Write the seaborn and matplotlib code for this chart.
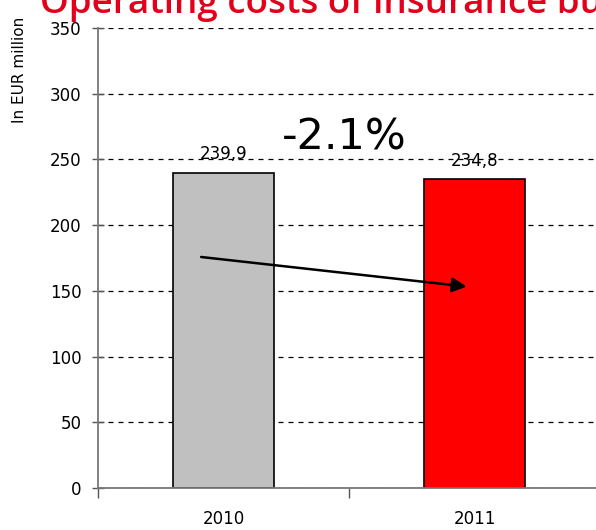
import matplotlib
matplotlib.use("Agg")
import numpy as np
import pandas as pd
import seaborn as sns
import matplotlib.pyplot as plt

years = ["2010", "2011"]
costs = [239.9, 234.8]
bar_colors = ["#C0C0C0", "#FF0000"]
value_labels = ["239,9", "234,8"]
y_ticks = [0, 50, 100, 150, 200, 250, 300, 350]
change_label = "-2.1%"
title = "Operating costs of insurance business"
y_title = "In EUR million"


def main():
    sns.set_theme(style="white", rc={"text.color": "black", "xtick.color": "black",
                                     "ytick.color": "black", "axes.labelcolor": "black"})
    plt.rcParams['font.family'] = ['DejaVu Sans']

    df = pd.DataFrame({"year": years, "cost": costs})

    fig = plt.figure(figsize=(5.96, 5.30), dpi=100)
    ax = fig.add_axes([98 / 596, 1 - 488 / 530, 502 / 596, 460 / 530])

    sns.barplot(data=df, x="year", y="cost", hue="year", palette=bar_colors,
                saturation=1, width=0.4, edgecolor="black", linewidth=1.2,
                legend=False, ax=ax)

    ax.set_xlim(-0.5, 1.5)
    ax.set_ylim(0, 350)
    ax.set_yticks(y_ticks)
    ax.set_yticklabels([str(t) for t in y_ticks], fontsize=12)
    ax.set_axisbelow(True)
    ax.yaxis.grid(True, color="black", linestyle=(0, (4, 4)), linewidth=0.9)
    ax.xaxis.grid(False)

    # x ticks sit between the categories, labels centred under bars
    ax.set_xticks([-0.5, 0.5, 1.5])
    ax.set_xticklabels([])
    ax.set_xticks([0, 1], minor=True)
    ax.set_xticklabels(years, minor=True, fontsize=12)
    ax.tick_params(axis="x", which="major", direction="out", length=7, width=1, color="#555555")
    ax.tick_params(axis="x", which="minor", length=0, pad=16)
    ax.tick_params(axis="y", direction="inout", length=8, width=1, color="#555555", pad=8)
    ax.tick_params(left=True, bottom=True)
    ax.set_xlabel("")
    ax.set_ylabel("")

    for side in ["top", "right"]:
        ax.spines[side].set_visible(False)
    for side in ["left", "bottom"]:
        ax.spines[side].set_color("#777777")
        ax.spines[side].set_linewidth(1.3)

    for i, (v, lab) in enumerate(zip(costs, value_labels)):
        ax.annotate(lab, (i, v), xytext=(0, 7), textcoords="offset points",
                    ha="center", va="bottom", fontsize=12)

    ax.annotate("", xy=(0.98, 153), xytext=(-0.1, 176),
                arrowprops=dict(arrowstyle="-|>", color="black", lw=1.8, mutation_scale=22))

    ax.text(0.48, 267, change_label, ha="center", va="center", fontsize=31)

    fig.text(40 / 596, 1 - 13 / 530, title, color="#E2001A", fontsize=26.5,
             family="Open Sans", fontweight="semibold", ha="left", va="baseline")
    fig.text(20 / 596, 1 - 70 / 530, y_title, rotation=90, ha="center", va="center",
             fontsize=11)

    fig.savefig("out.png", dpi=100)


if __name__ == "__main__":
    main()
